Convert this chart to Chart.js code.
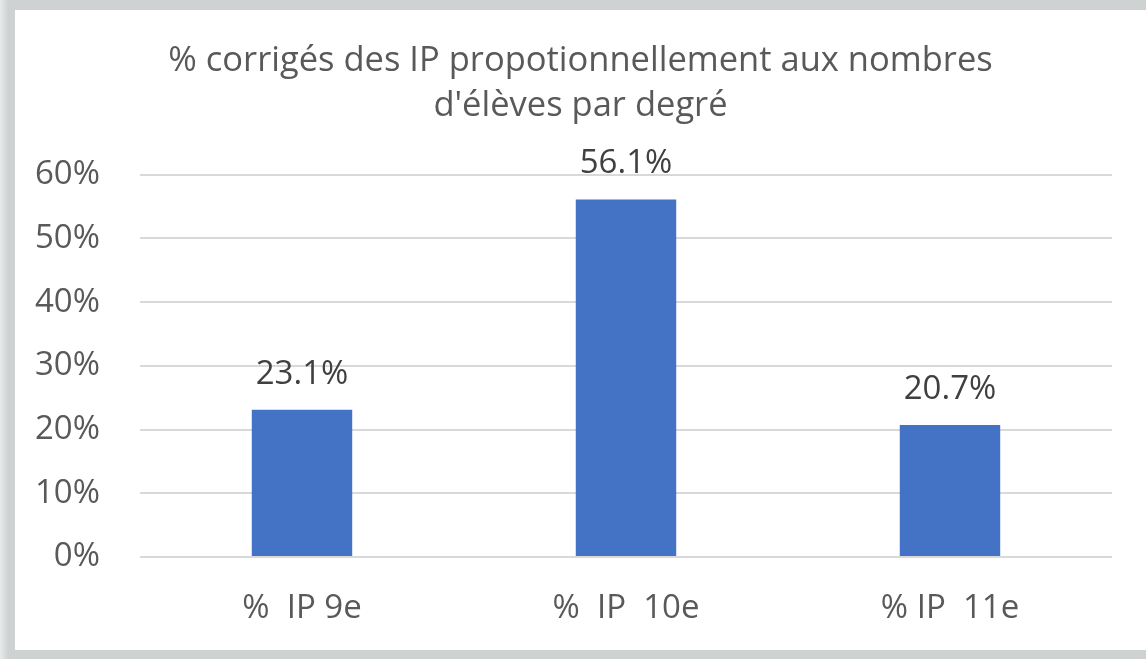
<!DOCTYPE html>
<html>
<head>
<meta charset="utf-8">
<script src="https://cdn.jsdelivr.net/npm/chart.js@4"></script>
<style>
  html, body { margin: 0; padding: 0; }
  body {
    width: 1146px; height: 659px; overflow: hidden;
    background: linear-gradient(90deg, #e8eaea 0px, #cfd2d3 8px, #cfd2d3 100%);
    position: relative;
  }
  #cadre {
    position: absolute; left: 15px; top: 10px;
    width: 1131px; height: 640px; background: #ffffff;
  }
</style>
</head>
<body>
<div id="cadre"><canvas id="graphique"></canvas></div>
<script>
// Données
const categories = ['%  IP 9e', '%  IP  10e', '% IP  11e'];
const valeurs = [23.1, 56.1, 20.7];
const titre = ["% corrigés des IP propotionnellement aux nombres", "d'élèves par degré"];
const graduations = [0, 10, 20, 30, 40, 50, 60];

const police = "'Open Sans', 'Noto Sans', sans-serif";

// Étiquettes de valeur au-dessus des barres
const etiquettesBarres = {
    id: 'etiquettesBarres',
    afterDatasetsDraw(chart) {
        const ctx = chart.ctx;
        const meta = chart.getDatasetMeta(0);
        ctx.save();
        ctx.font = `33px ${police}`;
        ctx.fillStyle = '#404040';
        ctx.textAlign = 'center';
        ctx.textBaseline = 'bottom';
        meta.data.forEach((barre, i) => {
            ctx.fillText(valeurs[i].toFixed(1) + '%', barre.x, barre.y - 19);
        });
        ctx.restore();
    }
};

Chart.defaults.font.family = police;
Chart.defaults.color = '#595959';

new Chart(document.getElementById('graphique'), {
    type: 'bar',
    data: {
        labels: categories,
        datasets: [{
            data: valeurs,
            backgroundColor: '#4472C4',
            categoryPercentage: 1,
            barPercentage: 0.31
        }]
    },
    options: {
        responsive: true,
        maintainAspectRatio: false,
        animation: false,
        layout: { padding: 0 },
        plugins: {
            legend: { display: false },
            tooltip: { enabled: false },
            title: {
                display: true,
                text: titre,
                color: '#595959',
                font: { size: 34.5, weight: 'normal', lineHeight: 1.3 },
                padding: { top: 29, bottom: 46 }
            }
        },
        scales: {
            x: {
                grid: { display: false, drawTicks: false },
                border: { display: false },
                ticks: { font: { size: 33 }, color: '#595959', padding: 32 },
                afterFit: s => { s.height = 93; }
            },
            y: {
                min: 0,
                max: 60,
                afterBuildTicks: s => { s.ticks = graduations.map(v => ({ value: v })); },
                grid: { color: '#d9d9d9', lineWidth: 2, drawTicks: false },
                border: { display: false },
                ticks: {
                    font: { size: 33 },
                    color: '#595959',
                    padding: 40,
                    callback: v => v + '%'
                },
                afterFit: s => { s.width = 125; }
            },
            // marge droite vide
            marge: {
                position: 'right',
                min: 0,
                max: 60,
                grid: { display: false, drawTicks: false },
                border: { display: false },
                ticks: { display: false },
                afterFit: s => { s.width = 34; }
            }
        }
    },
    plugins: [etiquettesBarres]
});
</script>
</body>
</html>
